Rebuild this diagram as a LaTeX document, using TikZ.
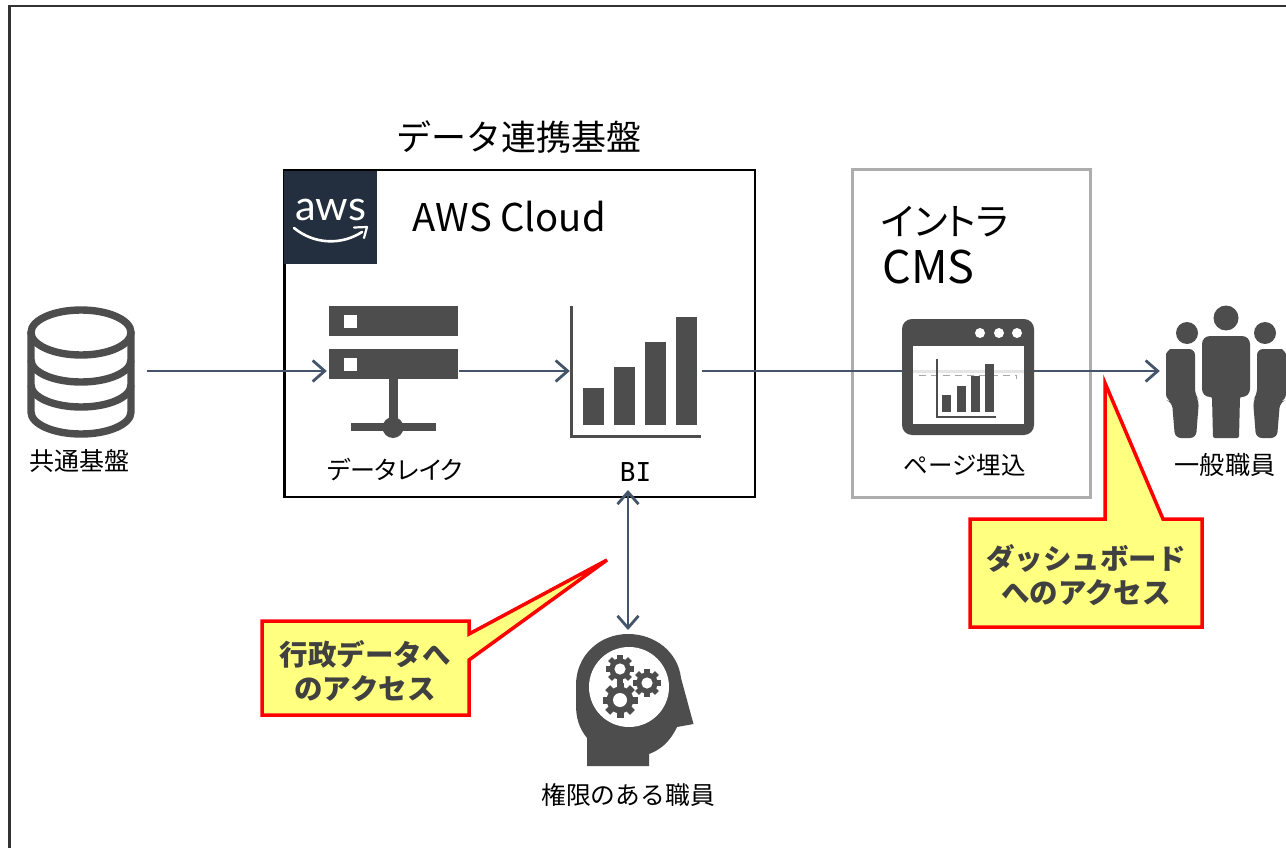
\documentclass[tikz,border=0pt]{standalone}
\usepackage{fontspec}
\setmainfont{Noto Sans CJK JP}
\newfontfamily\logofont{Lato}
\newfontfamily\propfont[RawFeature=+palt]{Noto Sans CJK JP}
\newfontfamily\serifI{DejaVu Sans Mono}
\usetikzlibrary{arrows.meta}
\definecolor{icon}{HTML}{4D4D4D}
\definecolor{link}{HTML}{44546A}
\definecolor{awsnavy}{HTML}{232F3E}
\definecolor{framegray}{HTML}{ADADAD}
\definecolor{note}{HTML}{FFFF80}
\newcommand{\fs}[1]{\fontsize{#1}{#1}\selectfont}
\tikzset{
  anchorbox/.style={inner sep=0pt,minimum width=132pt,minimum height=20pt},
  barb/.tip={Straight Barb[length=12pt,width=21pt,line width=2.8pt]},
  conn/.style={draw=link,line width=2.8pt,-barb},
  connboth/.style={draw=link,line width=2.8pt,barb-barb},
  lab/.style={anchor=base,inner sep=0pt,text=black,font=\fs{25}},
  big/.style={anchor=base west,inner sep=0pt,text=black},
  notebox/.style={draw=red,fill=note,line width=3.5pt,line join=miter,miter limit=10},
  notetext/.style={inner sep=0pt,align=center,text=black!75,font=\fs{28.5}\bfseries},
  iconfill/.style={fill=icon,draw=none}
}
\newcommand{\gear}[3]{% x, y, outer radius
  \foreach \a in {0,45,...,315}{
    \fill[icon,rotate around={\a:(#1,#2)}] (#1-0.2*#3,#2) rectangle (#1+0.2*#3,#2-#3);
  }
  \fill[icon] (#1,#2) circle[radius=0.76*#3];
  \fill[white] (#1,#2) circle[radius=0.4*#3];
}
\begin{document}
\begin{tikzpicture}[x=1pt,y=-1pt]
\useasboundingbox (0,0) rectangle (1286,848);
\fill[white] (0,0) rectangle (1286,848);
% outer frame
\draw[color=black!80,line width=2.6pt] (9.5,848) -- (9.5,6) -- (1286,6);

% containers
\draw[black,line width=2.6pt] (284.5,170) rectangle (755,497);
\draw[framegray,line width=3pt] (852,170) rectangle (1090,497);

% anchors for the connectors
\node[anchorbox] (db) at (81,371) {};
\node[anchorbox] (lake) at (393,371) {};
\node[anchorbox] (bi) at (636,371) {};
\node[anchorbox] (staff) at (1226,371) {};
\coordinate (biport) at (628,490);
\coordinate (headport) at (628,630);

% connectors
\draw[conn] (db.east) -- (lake.west);
\draw[conn] (lake.east) -- (bi.west);
\draw[conn] (bi.east) -- (staff.west);
\draw[connboth] (biport) -- (headport);

% AWS logo
\fill[awsnavy] (283.5,171) rectangle (377,264);
\node[inner sep=0pt,anchor=base,text=white,font=\logofont\fs{41.5}] (awslogo) at (330.5,220) {aws};
\draw[white,line width=2.6pt,line cap=round] (294,228) .. controls (315,245) and (342,245) .. (362,232);
\draw[white,line width=2.2pt,line cap=round,line join=round] (354,227.5) -- (367,227) -- (364,238);

% titles
\node[anchor=base,inner sep=0pt,font=\fs{35}] (title) at (519,151) {データ連携基盤};
\node[big,font=\fs{38.2}] (cloud) at (412.5,232) {AWS Cloud};
\node[big,font=\propfont\fs{37.5}] (intra) at (881,235) {イントラ};
\node[big,font=\fs{45}] (cms) at (882.5,283) {CMS};

% database
\begin{scope}[line width=7.4pt]
\draw[icon] (81,332.5) ellipse[x radius=50,y radius=22.5];
\draw[icon] (31,332) -- (31,412) arc[start angle=180,end angle=0,x radius=50,y radius=22] -- (131,332);
\draw[icon] (31,360) arc[start angle=180,end angle=0,x radius=50,y radius=22];
\draw[icon] (31,385) arc[start angle=180,end angle=0,x radius=50,y radius=22];
\end{scope}

% server
\fill[icon] (329,306) rectangle (458,336);
\fill[icon] (329,349) rectangle (458,379);
\fill[white] (344,315) rectangle (357,328);
\fill[white] (344,358) rectangle (357,371);
\fill[icon] (389,379) rectangle (398,425);
\fill[icon] (351,423) rectangle (436,431);
\fill[icon] (393,427.5) circle[radius=10.5];

% BI chart
\draw[icon,line width=3pt] (571.5,306) -- (571.5,436) -- (701,436);
\fill[icon] (583,388) rectangle (604,425);
\fill[icon] (614,367) rectangle (635,425);
\fill[icon] (645,342) rectangle (666,425);
\fill[icon] (676,317) rectangle (697,425);

% window with embedded chart
\fill[icon,rounded corners=10pt] (902,319) rectangle (1034,435);
\fill[white] (913,346) rectangle (1024,424);
\foreach \x in {980,999,1017} \fill[white] (\x,333) circle[radius=5];
\fill[black!10] (913,370) rectangle (1024,373);
\draw[black!35,line width=0.8pt,dash pattern=on 7pt off 5pt] (919,375.5) -- (1016,375.5) -- (1016,379);
\draw[icon,line width=1.6pt] (937,359) -- (937,417) -- (996,417);
\fill[icon] (942,395) rectangle (951,412);
\fill[icon] (957,386) rectangle (966,412);
\fill[icon] (971,376) rectangle (980,412);
\fill[icon] (985,364) rectangle (994,412);

% people
\fill[icon] (1226,318) circle[radius=12.5];
\fill[icon] (1187,333) circle[radius=11];
\fill[icon] (1265,333) circle[radius=11];
\fill[icon,rounded corners=8pt] (1202,397) -- (1202,336) -- (1250,336) -- (1250,397) -- cycle;
\fill[icon,rounded corners=2pt] (1206,390) -- (1246,390) -- (1240,397) -- (1239,438) -- (1213,438) -- (1212,397) -- cycle;
\fill[icon,rounded corners=6pt] (1195,349) -- (1176,349) .. controls (1170,349) and (1166,353) .. (1166,360) -- (1166,400) -- (1172,402) -- (1175,438) -- (1196,438) -- (1199,400) -- (1195,395) -- cycle;
\fill[icon,rounded corners=6pt] (1257,349) -- (1276,349) .. controls (1282,349) and (1286,353) .. (1286,360) -- (1286,400) -- (1280,402) -- (1277,438) -- (1256,438) -- (1253,400) -- (1257,395) -- cycle;

% head with gears
\fill[icon] (587,766) -- (587,738) .. controls (579,728) and (576,718) .. (576,705) -- (576,685)
  .. controls (576,655) and (600,634) .. (628,634)
  .. controls (655,634) and (678,652) .. (681,678)
  -- (693.5,724) -- (677,727)
  .. controls (670,742) and (660,750) .. (649,754) -- (649,766) -- cycle;
\fill[white] (629,687) circle[radius=40];
\gear{620}{669}{14}
\gear{647}{683}{14}
\gear{620}{700}{17.5}

% labels
\node[lab] (dblab) at (80,470) {共通基盤};
\node[lab,font=\propfont\fs{25}] (lakelab) at (395,479) {データレイク};
\node[lab,font=\serifI\fs{26}] (bilab) at (635.5,481) {BI};
\node[lab,font=\fs{24.5}] (embedlab) at (964.5,474) {ページ埋込};
\node[lab,font=\fs{25.2}] (stafflab) at (1225,474) {一般職員};
\node[lab,font=\fs{24.8}] (headlab) at (628,804) {権限のある職員};

% callouts
\draw[notebox] (262,621) -- (469,621) -- (469,634) -- (607,560) -- (469,660) -- (469,715) -- (262,715) -- cycle;
\node[notetext] (note1) at (365,671) {行政データへ\\[6pt]のアクセス};
\draw[notebox] (970,519) -- (1105,519) -- (1105,383) -- (1163,519) -- (1202,519) -- (1202,627) -- (970,627) -- cycle;
\node[notetext] (note2) at (1086,575) {ダッシュボード\\[6pt]へのアクセス};
\end{tikzpicture}
\end{document}
